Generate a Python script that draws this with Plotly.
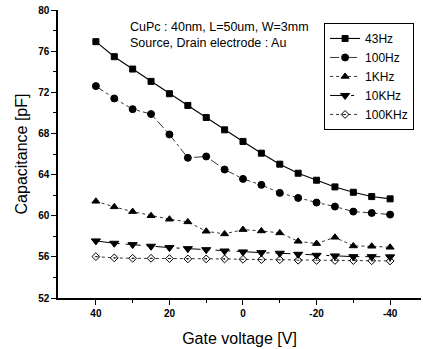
import plotly.graph_objects as go

gate_v = [40, 35, 30, 25, 20, 15, 10, 5, 0, -5, -10, -15, -20, -25, -30, -35, -40]
c_43hz = [76.92, 75.46, 74.26, 73.06, 71.86, 70.72, 69.55, 68.35, 67.22, 66.08, 65.01, 64.13, 63.45, 62.8, 62.28, 61.86, 61.64]
c_100hz = [72.6, 71.4, 70.36, 69.88, 67.9, 65.63, 65.76, 64.49, 63.58, 63.0, 62.22, 61.73, 61.28, 60.89, 60.4, 60.27, 60.11]
c_1khz = [61.4, 60.86, 60.4, 60.0, 59.66, 59.4, 58.49, 58.23, 58.65, 58.52, 58.33, 57.51, 57.29, 57.9, 57.06, 57.03, 56.93]
c_10khz = [57.55, 57.32, 57.19, 57.03, 56.9, 56.8, 56.7, 56.57, 56.48, 56.41, 56.35, 56.25, 56.15, 56.09, 56.02, 56.02, 56.0]
c_100khz = [56.02, 55.9, 55.86, 55.86, 55.83, 55.8, 55.8, 55.8, 55.76, 55.73, 55.72, 55.67, 55.65, 55.65, 55.64, 55.62, 55.6]

x_tickvals = [40, 20, 0, -20, -40]
x_ticktext = ["40", "20", "0", "-20", "-40"]
y_tickvals = [52, 56, 60, 64, 68, 72, 76, 80]

series = [
    ("43Hz", c_43hz, "solid", "square", 6, 1.1),
    ("100Hz", c_100hz, "dashdot", "circle", 7, 0.8),
    ("1KHz", c_1khz, "dot", "triangle-up", 7, 0.8),
    ("10KHz", c_10khz, "longdashdot", "triangle-down", 8, 1.0),
    ("100KHz", c_100khz, "dot", "diamond-open-dot", 6, 0.8),
]

FONT = "Liberation Sans, Arial, sans-serif"

fig = go.Figure()
for name, vals, dash, sym, size, lw in series:
    fig.add_trace(go.Scatter(
        x=gate_v, y=vals, name=name, mode="lines+markers",
        line=dict(color="black", width=lw, dash=dash),
        marker=dict(symbol=sym, size=size, color="black",
                    line=dict(color="black", width=1)),
    ))

axis_common = dict(
    showline=True, linecolor="black", linewidth=1.5,
    showgrid=False, zeroline=False,
    ticks="outside", ticklen=5, tickwidth=1.2, tickcolor="black",
    tickfont=dict(family=FONT, size=10, color="black", weight="bold"),
)

fig.update_layout(
    width=423, height=349,
    margin=dict(l=58, r=2, t=10, b=51),
    paper_bgcolor="white", plot_bgcolor="white",
    font=dict(family=FONT, color="black"),
    xaxis=dict(
        **axis_common,
        range=[50.3, -48.4], tickvals=x_tickvals, ticktext=x_ticktext,
        minor=dict(tickvals=[30, 10, -10, -30], ticks="outside", ticklen=3, tickcolor="black"),
        title=dict(text="Gate voltage [V]", font=dict(family=FONT, size=16, color="black"), standoff=15),
    ),
    yaxis=dict(
        **axis_common,
        range=[52, 80], tickvals=y_tickvals,
        minor=dict(tickvals=[54, 58, 62, 66, 70, 74, 78], ticks="outside", ticklen=3, tickcolor="black"),
        title=dict(text="Capacitance [pF]", font=dict(family=FONT, size=16, color="black"), standoff=7),
    ),
    xaxis2=dict(overlaying="x", matches="x", side="top", showline=True, linecolor="black",
                linewidth=1.2, ticks="inside", ticklen=4, tickvals=x_tickvals,
                showticklabels=False, showgrid=False, zeroline=False),
    yaxis2=dict(overlaying="y", matches="y", side="right", showline=True, linecolor="black",
                linewidth=1.2, ticks="inside", ticklen=4, tickvals=y_tickvals,
                showticklabels=False, showgrid=False, zeroline=False),
    legend=dict(
        x=0.733, y=0.955, xanchor="left", yanchor="top",
        bgcolor="white", bordercolor="black", borderwidth=1,
        font=dict(family=FONT, size=12, color="black"),
        tracegroupgap=0, itemwidth=30,
    ),
    showlegend=True,
)

fig.add_annotation(
    xref="paper", yref="paper", x=(128 - 58) / 363, y=(298 - 18) / 288,
    xanchor="left", yanchor="top", align="left", showarrow=False,
    text="CuPc : 40nm, L=50um, W=3mm<br>Source, Drain electrode : Au",
    font=dict(family=FONT, size=12.5, color="black"),
)

fig.write_html("out.html")
